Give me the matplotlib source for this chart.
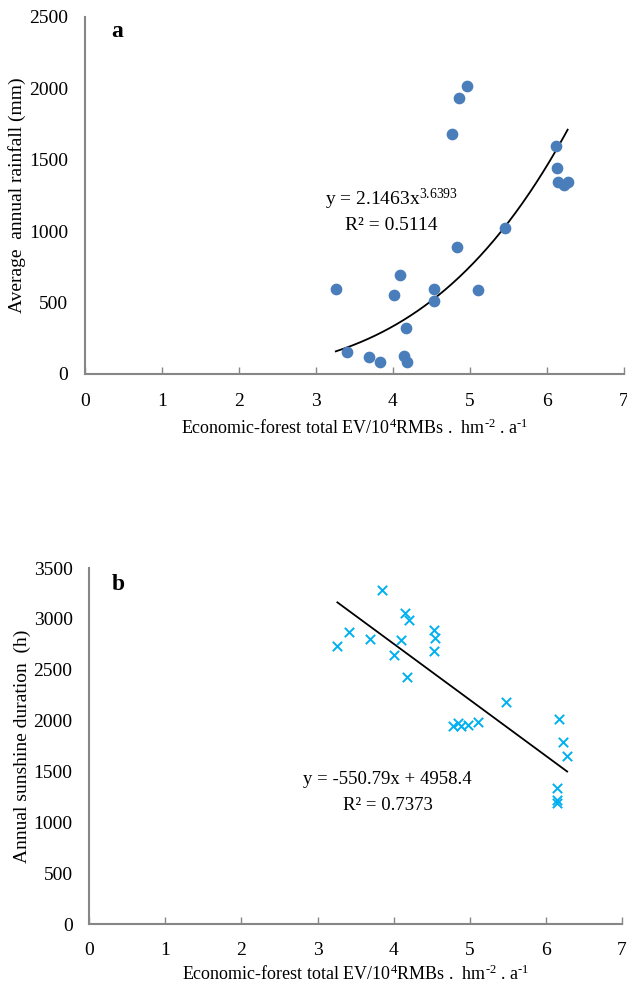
import numpy as np
import matplotlib
matplotlib.use("Agg")
import matplotlib.pyplot as plt

plt.rcParams['font.family'] = ['Liberation Serif', 'DejaVu Serif']
plt.rcParams['mathtext.fontset'] = 'custom'
plt.rcParams['mathtext.rm'] = 'Liberation Serif'
plt.rcParams['mathtext.it'] = 'Liberation Serif:italic'
plt.rcParams['mathtext.bf'] = 'Liberation Serif:bold'

# Panel a: economic-forest total EV vs average annual rainfall
a_x = [3.26, 3.41, 3.69, 3.84, 4.01, 4.09, 4.15, 4.17, 4.19, 4.53, 4.54,
       4.77, 4.84, 4.86, 4.96, 5.10, 5.46, 6.12, 6.13, 6.14, 6.22, 6.27]
a_y = [597, 152, 119, 82, 551, 695, 128, 324, 82, 593, 511,
       1683, 887, 1933, 2019, 588, 1025, 1595, 1445, 1345, 1321, 1345]
a_coef = 2.1463
a_exp = 3.6393
a_r2 = 0.5114

# Panel b: economic-forest total EV vs annual sunshine duration
b_x = [3.84, 3.26, 3.41, 3.69, 4.01, 4.10, 4.15, 4.20, 4.18, 4.53, 4.54, 4.53,
       4.78, 4.84, 4.88, 4.97, 5.11, 5.47, 6.17, 6.23, 6.28, 6.14, 6.14, 6.15]
b_y = [3283, 2736, 2868, 2799, 2645, 2795, 3054, 2985, 2431, 2887, 2808, 2687,
       1943, 1973, 1950, 1956, 1983, 2186, 2012, 1786, 1655, 1334, 1219, 1187]
b_slope = -550.79
b_intercept = 4958.4
b_r2 = 0.7373

x_ticks = [0, 1, 2, 3, 4, 5, 6, 7]
xlabel = r"Economic-forest total EV/10$^{4}$RMBs .  hm$^{\text{-}2}$ . a$^{\text{-}1}$"

fig = plt.figure(figsize=(6.27, 9.98), dpi=100)
ax1 = fig.add_axes([0.1351, 0.6253, 0.8599, 0.3577])
ax2 = fig.add_axes([0.1424, 0.0741, 0.8496, 0.3567])

spine_c = '#868686'
for ax in (ax1, ax2):
    for s in ('top', 'right'):
        ax.spines[s].set_visible(False)
    for s in ('left', 'bottom'):
        ax.spines[s].set_color(spine_c)
        ax.spines[s].set_linewidth(1.5)
    ax.set_xlim(0, 7)
    ax.set_xticks(x_ticks)
    ax.tick_params(axis='x', direction='in', length=5, color=spine_c, width=1,
                   labelsize=14)
    ax.tick_params(axis='y', length=0, labelsize=14, pad=12)

ax1.tick_params(axis='x', pad=14)
ax2.tick_params(axis='x', pad=13)

# Panel a
ax1.scatter(a_x, a_y, s=55, color='#4A7EBB', zorder=3)
xf = np.linspace(min(a_x), max(a_x), 200)
ax1.plot(xf, a_coef * xf ** a_exp, color='black', lw=1.3, zorder=2)
ax1.set_ylim(0, 2500)
ax1.set_yticks([0, 500, 1000, 1500, 2000, 2500])
ax1.set_ylabel("Average  annual rainfall (mm)", fontsize=14, labelpad=2)
ax1.set_xlabel(xlabel, fontsize=13, labelpad=6)
ax1.text(3.98, 1220, r"y = %.4fx$^{%.4f}$" % (a_coef, a_exp), fontsize=14,
         ha='center', va='center')
ax1.text(3.98, 1040, "R² = %.4f" % a_r2, fontsize=14, ha='center', va='center')
ax1.text(0.06, 0.96, "a", transform=ax1.transAxes, fontsize=17,
         fontweight='bold', ha='center', va='center')

# Panel b
ax2.scatter(b_x, b_y, s=45, marker='x', color='#00B0F0', linewidths=1.4, zorder=3)
xl = np.linspace(min(b_x), max(b_x), 2)
ax2.plot(xl, b_slope * xl + b_intercept, color='black', lw=1.3, zorder=2)
ax2.set_ylim(0, 3500)
ax2.set_yticks([0, 500, 1000, 1500, 2000, 2500, 3000, 3500])
ax2.set_ylabel("Annual sunshine duration  (h)", fontsize=14, labelpad=2)
ax2.set_xlabel(xlabel, fontsize=13, labelpad=4)
ax2.text(3.92, 1425, "y = %.2fx + %.1f" % (b_slope, b_intercept), fontsize=13.5,
         ha='center', va='center')
ax2.text(3.92, 1170, "R² = %.4f" % b_r2, fontsize=13.5, ha='center', va='center')
ax2.text(0.055, 0.955, "b", transform=ax2.transAxes, fontsize=17,
         fontweight='bold', ha='center', va='center')

fig.savefig("out.png", dpi=100)
